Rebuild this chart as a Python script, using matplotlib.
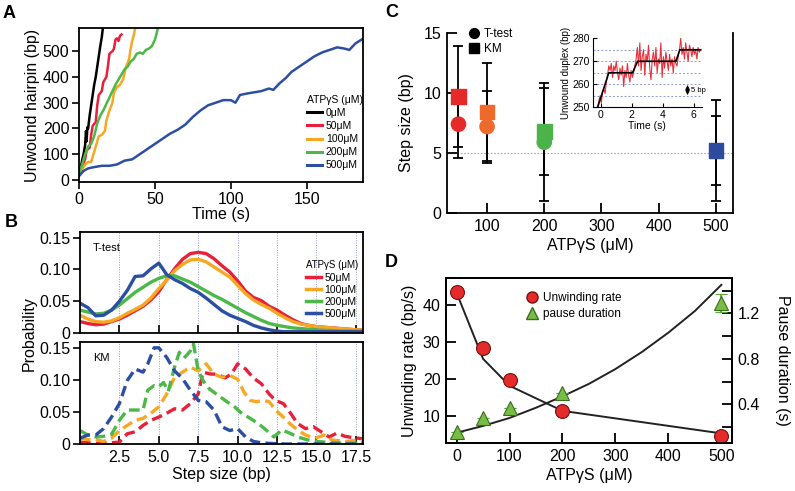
import numpy as np
import matplotlib
matplotlib.use('Agg')
import matplotlib.pyplot as plt
from matplotlib.lines import Line2D

plt.rcParams['font.family'] = ['Liberation Sans', 'DejaVu Sans']
plt.rcParams['axes.linewidth'] = 1.3

# ---------------- Panel A data ----------------
a_labels = ['0μM', '50μM', '100μM', '200μM', '500μM']
a_colors = ['#000000', '#e8203a', '#f7a823', '#4cb848', '#2c4ea3']
a_t_0 = [0, 1, 2, 3, 4, 4.6, 5, 5.5, 6, 7, 8, 9, 10, 11, 12, 13, 14, 15, 15.6]
a_y_0 = [20, 45, 75, 100, 135, 190, 150, 205, 200, 250, 290, 330, 370, 400, 440, 480, 520, 555, 585]
a_t_50 = [0, 2, 4, 5, 7, 8, 9, 11, 12, 13, 15, 16, 18, 19, 20, 22, 23, 24, 25, 26, 27, 28]
a_y_50 = [20, 50, 80, 115, 125, 175, 210, 225, 290, 330, 345, 380, 400, 440, 490, 500, 510, 545, 550, 540, 560, 565]
a_t_100 = [0, 2, 4, 6, 8, 9, 11, 13, 15, 17, 18, 20, 22, 23, 25, 27, 29, 31, 33, 34, 35, 36, 37]
a_y_100 = [20, 40, 60, 70, 70, 90, 130, 170, 175, 190, 230, 270, 300, 340, 360, 370, 390, 440, 470, 510, 540, 560, 590]
a_t_200 = [0, 2, 4, 6, 8, 10, 12, 14, 16, 18, 20, 22, 24, 26, 28, 30, 32, 34, 36, 38, 40, 42, 44, 46, 48, 50, 52]
a_y_200 = [20, 60, 100, 130, 140, 170, 220, 250, 270, 295, 320, 345, 370, 390, 410, 430, 440, 460, 470, 490, 495, 490, 505, 510, 520, 545, 590]
a_t_500 = [0, 3, 6, 10, 15, 20, 25, 30, 35, 40, 45, 50, 55, 60, 65, 70, 75, 80, 85, 90, 95, 100,
           103, 106, 110, 115, 120, 125, 128, 132, 136, 140, 145, 150, 155, 160, 165, 170, 175, 178, 182, 186]
a_y_500 = [15, 35, 45, 50, 55, 55, 60, 75, 80, 100, 120, 140, 160, 180, 195, 215, 245, 270, 290, 300, 310, 310,
           300, 330, 335, 340, 345, 355, 350, 375, 395, 420, 440, 460, 480, 495, 505, 515, 510, 505, 530, 545]
a_times = [a_t_0, a_t_50, a_t_100, a_t_200, a_t_500]
a_values = [a_y_0, a_y_50, a_y_100, a_y_200, a_y_500]

# ---------------- Panel B data ----------------
b_labels = ['50μM', '100μM', '200μM', '500μM']
b_colors = ['#e8203a', '#f7a823', '#4cb848', '#2c4ea3']
b_tt_x = np.arange(0, 18.01, 0.5)
b_tt_50 = [0.018, 0.015, 0.013, 0.014, 0.018, 0.022, 0.028, 0.035, 0.042, 0.052, 0.065, 0.084, 0.101, 0.116,
           0.125, 0.127, 0.125, 0.117, 0.106, 0.096, 0.082, 0.066, 0.056, 0.051, 0.042, 0.036, 0.028, 0.021,
           0.015, 0.012, 0.010, 0.009, 0.008, 0.007, 0.006, 0.005, 0.005]
b_tt_100 = [0.028, 0.022, 0.018, 0.017, 0.019, 0.024, 0.031, 0.037, 0.044, 0.055, 0.070, 0.083, 0.098, 0.108,
            0.115, 0.116, 0.112, 0.104, 0.096, 0.088, 0.075, 0.062, 0.052, 0.045, 0.039, 0.031, 0.024, 0.018,
            0.014, 0.012, 0.010, 0.009, 0.008, 0.007, 0.006, 0.005, 0.005]
b_tt_200 = [0.036, 0.033, 0.030, 0.031, 0.036, 0.044, 0.054, 0.064, 0.072, 0.080, 0.086, 0.090, 0.090, 0.085,
            0.080, 0.073, 0.066, 0.059, 0.053, 0.046, 0.039, 0.032, 0.026, 0.020, 0.015, 0.012, 0.010, 0.008,
            0.007, 0.006, 0.005, 0.004, 0.004, 0.003, 0.003, 0.003, 0.003]
b_tt_500 = [0.047, 0.040, 0.027, 0.028, 0.036, 0.050, 0.067, 0.089, 0.090, 0.101, 0.110, 0.092, 0.084, 0.078,
            0.070, 0.064, 0.055, 0.045, 0.035, 0.028, 0.023, 0.018, 0.012, 0.008, 0.005, 0.003, 0.002, 0.002,
            0.002, 0.002, 0.002, 0.002, 0.002, 0.002, 0.002, 0.002, 0.002]
b_tt = [b_tt_50, b_tt_100, b_tt_200, b_tt_500]

b_km_x_50 = [0, 0.5, 1, 1.5, 2, 2.5, 3, 3.5, 4, 4.5, 5, 5.5, 6, 6.5, 7, 7.5, 7.8, 8.3, 8.7, 9.2, 9.6, 10, 10.5,
             11, 11.5, 12, 12.4, 12.9, 13.3, 13.8, 14.3, 14.8, 15.3, 15.8, 16.3, 16.8, 17.3, 18]
b_km_y_50 = [0.003, 0.002, 0.001, 0.001, 0.002, 0.003, 0.016, 0.019, 0.029, 0.037, 0.042, 0.048, 0.055, 0.053,
             0.063, 0.078, 0.112, 0.109, 0.109, 0.103, 0.109, 0.125, 0.117, 0.103, 0.094, 0.078, 0.068, 0.063,
             0.050, 0.032, 0.024, 0.027, 0.019, 0.011, 0.017, 0.012, 0.010, 0.008]
b_km_x_100 = [0, 0.5, 1, 1.5, 2, 2.5, 3, 3.5, 4, 4.5, 5, 5.5, 6, 6.5, 7, 7.5, 8, 8.5, 9, 9.5, 10, 10.4, 10.8,
              11.2, 11.6, 12, 12.4, 12.9, 13.3, 13.8, 14.3, 14.9, 15.5, 16, 16.5, 17, 17.5, 18]
b_km_y_100 = [0.009, 0.007, 0.007, 0.004, 0.009, 0.021, 0.029, 0.037, 0.040, 0.048, 0.058, 0.078, 0.104, 0.112,
              0.120, 0.114, 0.125, 0.109, 0.104, 0.107, 0.101, 0.081, 0.068, 0.066, 0.068, 0.066, 0.053, 0.042,
              0.032, 0.022, 0.014, 0.009, 0.014, 0.006, 0.005, 0.004, 0.006, 0.004]
b_km_x_200 = [0, 0.5, 1, 1.5, 2, 2.5, 3, 3.5, 4, 4.3, 4.7, 5, 5.3, 5.6, 6, 6.3, 6.6, 7, 7.2, 7.5, 7.8, 8.2, 8.7,
              9.2, 9.8, 10.3, 10.8, 11.3, 11.8, 12.3, 12.8, 13.3, 13.8, 14.5, 15, 16, 17, 18]
b_km_y_200 = [0.021, 0.014, 0.011, 0.012, 0.015, 0.037, 0.053, 0.053, 0.053, 0.084, 0.091, 0.089, 0.096, 0.082,
              0.120, 0.143, 0.134, 0.145, 0.156, 0.114, 0.099, 0.086, 0.077, 0.068, 0.058, 0.047, 0.040, 0.032,
              0.022, 0.011, 0.022, 0.017, 0.011, 0.006, 0.004, 0.002, 0.001, 0.001]
b_km_x_500 = [0, 0.5, 1, 1.5, 2, 2.5, 3, 3.5, 4, 4.3, 4.7, 5, 5.5, 6, 6.5, 7, 7.5, 8, 8.5, 9, 9.5, 10, 10.5, 11,
              11.5, 12, 13, 14, 15, 16, 17, 18]
b_km_y_500 = [0.009, 0.014, 0.014, 0.024, 0.042, 0.063, 0.099, 0.117, 0.112, 0.125, 0.150, 0.150, 0.135, 0.114,
              0.102, 0.084, 0.068, 0.066, 0.053, 0.027, 0.021, 0.024, 0.011, 0.004, 0.002, 0.001, 0, 0, 0, 0, 0, 0]
b_km_x = [b_km_x_50, b_km_x_100, b_km_x_200, b_km_x_500]
b_km_y = [b_km_y_50, b_km_y_100, b_km_y_200, b_km_y_500]
b_xticks = [2.5, 5.0, 7.5, 10.0, 12.5, 15.0, 17.5]
b_xticklabels = ['2.5', '5.0', '7.5', '10.0', '12.5', '15.0', '17.5']

# ---------------- Panel C data ----------------
c_colors = ['#e52a2a', '#ee6a2c', '#4cb34a', '#2d4a9e']
c_conc = [50, 100, 200, 500]
c_tt_mean = [7.4, 7.2, 5.9, 5.2]
c_tt_err = [2.8, 3.0, 4.9, 2.9]
c_km_mean = [9.7, 8.4, 6.8, 5.2]
c_km_err = [4.2, 4.1, 3.6, 4.2]
c_ins_t = np.arange(84) * 0.08 - 0.2
c_ins_y = [250, 253, 255, 252, 257, 258, 256, 261, 264,
           268, 266, 269, 263, 268, 266, 270, 265, 262, 267, 264, 268, 259, 266, 263, 269, 264, 261, 266, 263,
           265, 268, 271, 276,
           268, 278, 266, 272, 275, 264, 273, 270, 277, 267, 262, 271, 274, 268, 276, 265, 271, 269, 278, 263,
           272, 267, 274, 270, 266, 273, 268, 271, 265, 272, 269,
           268, 272, 275,
           280, 273, 276, 271, 278, 274, 270, 277, 275, 272, 276, 273, 275, 271, 276, 274, 275]
c_fit_t = [-0.2, 0.52, 2.05, 2.38, 4.85, 5.1, 6.45]
c_fit_y = [250, 265, 265, 270, 270, 275, 275]

# ---------------- Panel D data ----------------
d_conc = [0, 50, 100, 200, 500]
d_rate = [43.5, 28.2, 19.7, 11.3, 4.6]
d_rate_fit = [43.3, 25.4, 18.1, 11.3, 5.2]
d_pause = [0.16, 0.28, 0.37, 0.50, 1.29]
d_pause_err = [0, 0, 0, 0, 0.08]
d_pause_fit_x = [0, 50, 100, 150, 200, 250, 300, 350, 400, 450, 500]
d_pause_fit_y = [0.15, 0.21, 0.28, 0.37, 0.47, 0.58, 0.71, 0.86, 1.03, 1.22, 1.45]

fig = plt.figure(figsize=(7.95, 4.91), dpi=100)
TFS = 11.5
LFS = 11.5

# ---------------- Panel A ----------------
axA = fig.add_axes([0.0994, 0.6293, 0.3572, 0.3136])
for t, y, c, lab in zip(a_times, a_values, a_colors, a_labels):
    axA.plot(t, y, color=c, lw=1.8, label=lab)
axA.set_xlim(0, 187)
axA.set_ylim(-8, 590)
axA.set_xticks([0, 50, 100, 150])
axA.set_yticks([0, 100, 200, 300, 400, 500])
axA.tick_params(direction='out', length=5, width=1.2, labelsize=TFS, pad=2)
axA.set_xlabel('Time (s)', fontsize=LFS, labelpad=0)
axA.set_ylabel('Unwound hairpin (bp)', fontsize=LFS, labelpad=2)
legA = axA.legend(title='ATPγS (μM)', loc='upper left', bbox_to_anchor=(0.785, 0.6), frameon=False,
                  fontsize=7.5, title_fontsize=7.5, handlelength=1.4, handletextpad=0.4,
                  labelspacing=0.3, borderpad=0, alignment='left')
for h in legA.get_lines():
    h.set_linewidth(2.2)

# ---------------- Panel B ----------------
axB1 = fig.add_axes([0.1006, 0.3218, 0.356, 0.2057])
axB2 = fig.add_axes([0.1006, 0.0957, 0.356, 0.2077])
for ys, c, lab in zip(b_tt, b_colors, b_labels):
    axB1.plot(b_tt_x, ys, color=c, lw=2.4, label=lab)
for xs, ys, c in zip(b_km_x, b_km_y, b_colors):
    axB2.plot(xs, ys, color=c, lw=2.4, ls=(0, (3.2, 1.6)))
for ax in (axB1, axB2):
    ax.set_xlim(0, 17.95)
    ax.set_ylim(0, 0.159)
    ax.set_xticks(b_xticks)
    ax.set_yticks([0, 0.05, 0.10, 0.15])
    ax.set_yticklabels(['0', '0.05', '0.10', '0.15'])
    for xv in b_xticks:
        ax.axvline(xv, color='#8f9bd0', lw=0.7, ls=(0, (1, 1.5)), zorder=0)
    ax.tick_params(axis='y', direction='out', length=5, width=1.2, labelsize=TFS, pad=2)
    ax.tick_params(axis='x', direction='in', length=6, width=1.2, labelsize=TFS, pad=4)
axB1.set_xticklabels([])
axB2.set_xticklabels(b_xticklabels)
axB2.set_xlabel('Step size (bp)', fontsize=LFS, labelpad=2)
fig.text(0.037, 0.32, 'Probability', rotation=90, fontsize=LFS, ha='center', va='center')
axB1.text(0.045, 0.84, 'T-test', transform=axB1.transAxes, fontsize=8, va='center')
axB2.text(0.045, 0.84, 'KM', transform=axB2.transAxes, fontsize=8, va='center')
legB = axB1.legend(title='ATPγS (μM)', loc='upper left', bbox_to_anchor=(0.78, 0.77), frameon=False,
                   fontsize=7.5, title_fontsize=7, handlelength=1.4, handletextpad=0.4,
                   labelspacing=0.2, borderpad=0, alignment='left')
for h in legB.get_lines():
    h.set_linewidth(2.5)

# ---------------- Panel C ----------------
axC = fig.add_axes([0.5623, 0.5662, 0.3597, 0.3666])
axC.axhline(5, color='#9aa6d6', lw=0.8, ls=(0, (1.5, 1.5)), zorder=0)
for i in range(4):
    axC.errorbar(c_conc[i], c_km_mean[i], yerr=c_km_err[i], fmt='none', ecolor='black',
                 elinewidth=1.3, capsize=3.5, capthick=1.3, zorder=2)
    axC.errorbar(c_conc[i], c_tt_mean[i], yerr=c_tt_err[i], fmt='none', ecolor='black',
                 elinewidth=1.3, capsize=3.5, capthick=1.3, zorder=2)
axC.scatter(c_conc, c_km_mean, marker='s', s=110, c=c_colors, edgecolors=c_colors, zorder=3)
axC.scatter(c_conc[:3], c_tt_mean[:3], marker='o', s=105, c=c_colors[:3], edgecolors=c_colors[:3], zorder=4)
axC.set_xlim(30, 530)
axC.set_ylim(0, 15)
axC.set_xticks([100, 200, 300, 400, 500])
axC.set_yticks([0, 5, 10, 15])
axC.spines['top'].set_visible(False)
axC.tick_params(direction='in', length=7, width=1.3, labelsize=TFS, pad=4)
axC.set_xlabel('ATPγS (μM)', fontsize=LFS, labelpad=3)
axC.set_ylabel('Step size (bp)', fontsize=LFS, labelpad=7)
hC = [Line2D([], [], marker='o', color='black', ls='none', markersize=7),
      Line2D([], [], marker='s', color='black', ls='none', markersize=7)]
axC.legend(hC, ['T-test', 'KM'], loc='upper left', bbox_to_anchor=(0.05, 1.06), frameon=False,
           fontsize=8.5, handletextpad=0.2, labelspacing=0.25, borderpad=0, handlelength=1.2)

# inset
axI = fig.add_axes([0.7459, 0.7815, 0.1365, 0.1405])
for gy in [255, 260, 265, 270, 275]:
    axI.axhline(gy, color='#8f9bd0', lw=0.7, ls=(0, (2, 2)), zorder=0)
axI.plot(c_ins_t, c_ins_y, color='#e8303a', lw=0.8)
axI.plot(c_fit_t, c_fit_y, color='black', lw=1.2)
axI.set_xlim(-0.5, 6.5)
axI.set_ylim(250, 280)
axI.set_xticks([0, 2, 4, 6])
axI.set_yticks([250, 260, 270, 280])
axI.spines['top'].set_visible(False)
axI.spines['right'].set_visible(False)
for s in ('left', 'bottom'):
    axI.spines[s].set_linewidth(0.8)
axI.tick_params(direction='in', length=3, width=0.8, labelsize=7.5, pad=2)
axI.set_xlabel('Time (s)', fontsize=7.5, labelpad=1)
axI.set_ylabel('Unwound duplex (bp)', fontsize=7, labelpad=1)
axI.annotate('', xy=(5.6, 255.3), xytext=(5.6, 259.7),
             arrowprops=dict(arrowstyle='<|-|>,head_length=0.5,head_width=0.25', lw=0.7, color='black',
                             shrinkA=0, shrinkB=0, mutation_scale=5))
axI.text(5.8, 257.5, '5 bp', fontsize=5.5, va='center')

# ---------------- Panel D ----------------
axD = fig.add_axes([0.561, 0.0978, 0.3597, 0.336])
axD2 = axD.twinx()
axD.plot(d_conc, d_rate_fit, color='#222222', lw=1.4, zorder=2)
axD.plot(d_conc, d_rate, 'o', color='#e52a2a', markeredgecolor='#7a1010', markeredgewidth=0.8,
         markersize=10, zorder=3)
axD2.plot(d_pause_fit_x, d_pause_fit_y, color='#222222', lw=1.4, zorder=2)
axD2.errorbar(d_conc, d_pause, yerr=d_pause_err, fmt='^', color='#77bd45', markeredgecolor='#3d6b1f',
              markeredgewidth=0.8, markersize=10, ecolor='#5aa83a', elinewidth=1.3, capsize=4,
              capthick=1.3, zorder=3)
axD.set_xlim(-20, 520)
axD.set_ylim(2.6, 47.3)
axD2.set_ylim(0.06, 1.51)
axD.set_xticks([0, 100, 200, 300, 400, 500])
axD.set_yticks([10, 20, 30, 40])
axD2.set_yticks([0.2, 0.4, 0.6, 0.8, 1.0, 1.2, 1.4])
axD2.set_yticklabels(['', '0.4', '', '0.8', '', '1.2', ''])
axD.tick_params(direction='in', length=7, width=1.3, labelsize=TFS, pad=4)
axD2.tick_params(direction='in', length=7, width=1.3, labelsize=TFS, pad=4)
axD.set_xlabel('ATPγS (μM)', fontsize=LFS, labelpad=3)
axD.set_ylabel('Unwinding rate (bp/s)', fontsize=LFS, labelpad=4)
axD2.set_ylabel('Pause duration (s)', fontsize=LFS, rotation=270, labelpad=22)
hD = [Line2D([], [], marker='o', color='#e52a2a', markeredgecolor='#7a1010', ls='none', markersize=8),
      Line2D([], [], marker='^', color='#77bd45', markeredgecolor='#3d6b1f', ls='none', markersize=8)]
axD.legend(hD, ['Unwinding rate', 'pause duration'], loc='upper left', bbox_to_anchor=(0.255, 0.95),
           frameon=False, fontsize=8.5, handletextpad=0.3, labelspacing=0.3, borderpad=0, handlelength=1.2)

# panel letters
for lbl, x, y in [('A', 0.003, 0.972), ('B', 0.006, 0.547), ('C', 0.484, 0.975), ('D', 0.484, 0.466)]:
    fig.text(x, y, lbl, fontsize=13, fontweight='bold', va='center')

fig.savefig('out.png', dpi=100)
